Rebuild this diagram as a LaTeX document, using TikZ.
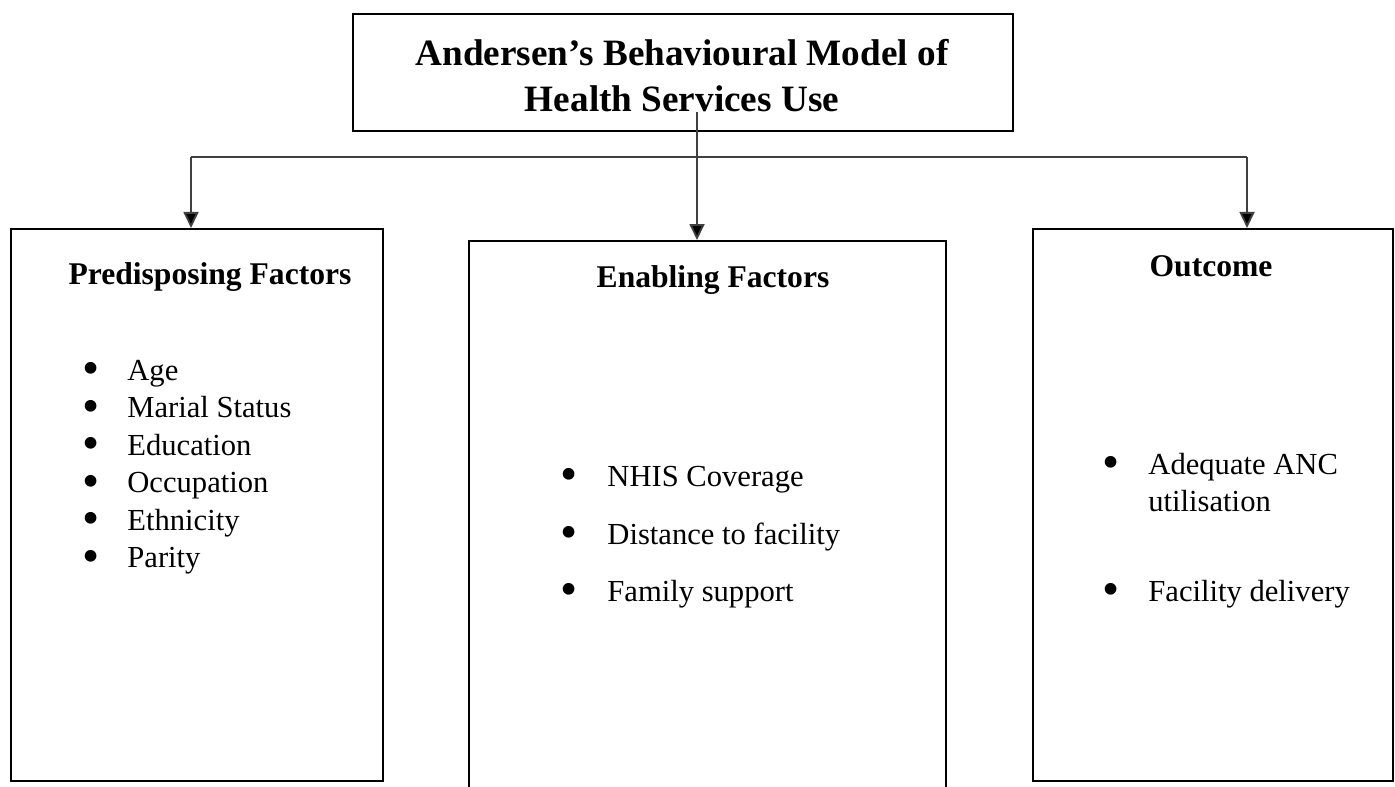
\documentclass[tikz,border=0pt]{standalone}
\usepackage{fontspec}
\usepackage{graphicx}
\setmainfont{Liberation Serif}
\usetikzlibrary{arrows.meta}
\begin{document}
\begin{tikzpicture}[x=0.5pt,y=-0.5pt,
  boxnode/.style={draw=black,line width=1.2pt,anchor=north west,inner sep=0pt},
  headtext/.style={font=\bfseries\fontsize{15.8}{19}\selectfont,inner sep=0pt,anchor=base},
  itemtext/.style={font=\fontsize{15.3}{18.75}\selectfont,inner sep=0pt,anchor=base west,align=left},
  conn/.style={draw=black!75,line width=0.9pt},
  arr/.style={conn,-{Triangle[width=7.5pt,length=8pt,fill=black]}}
]
\useasboundingbox (0,0) rectangle (1395,786);
\newcommand\bul{\smash{\raisebox{-0.15em}{\scalebox{1.6}{\textbullet}}}}
\newcommand\itmA[1]{\makebox[22.5pt][l]{\bul}#1}
\newcommand\itmB[1]{\makebox[23.5pt][l]{\bul}#1}
\newcommand\itmC[1]{\makebox[23pt][l]{\bul}#1}
% boxes
\node[boxnode,minimum width=330pt,minimum height=58.5pt] (title) at (352,13) {};
\node[boxnode,minimum width=186pt,minimum height=276pt] (left) at (10,228) {};
\node[boxnode,minimum width=238.5pt,minimum height=290pt] (mid) at (468,240) {};
\node[boxnode,minimum width=180pt,minimum height=276pt] (right) at (1032,228) {};
% title text
\node[font=\bfseries\fontsize{18.6}{23}\selectfont,inner sep=0pt,anchor=base] (t1) at (682,66) {Andersen’s Behavioural Model of};
\node[font=\bfseries\fontsize{18.6}{23}\selectfont,inner sep=0pt,anchor=base] (t2) at (682,112) {Health Services Use};
% connectors
\coordinate (tstart) at (697,112);
\coordinate (jl) at (191,157);
\coordinate (jr) at (1247,157);
\draw[conn] (jl) -- (jr);
\draw[arr] (tstart) -- (mid.north -| tstart);
\draw[arr] (jl) -- (left.north -| jl);
\draw[arr] (jr) -- (right.north -| jr);
% headers
\node[headtext] (hl) at (210,284) {Predisposing Factors};
\node[headtext] (hm) at (713,287) {Enabling Factors};
\node[headtext] (hr) at (1211,276) {Outcome};
% left items (anchor = baseline of last line)
\node[itemtext] (alist) at (82,567.5) {\itmA{Age}\\ \itmA{Marial Status}\\ \itmA{Education}\\ \itmA{Occupation}\\ \itmA{Ethnicity}\\ \itmA{Parity}};
% middle items
\node[itemtext] (b1) at (560,486) {\itmB{NHIS Coverage}};
\node[itemtext] (b2) at (560,544) {\itmB{Distance to facility}};
\node[itemtext] (b3) at (560,601) {\itmB{Family support}};
% right items
\node[itemtext] (c1) at (1102,511.5) {\itmC{Adequate ANC}\\ \hspace*{23pt}utilisation};
\node[itemtext] (c3) at (1102,601) {\itmC{Facility delivery}};
\end{tikzpicture}
\end{document}
